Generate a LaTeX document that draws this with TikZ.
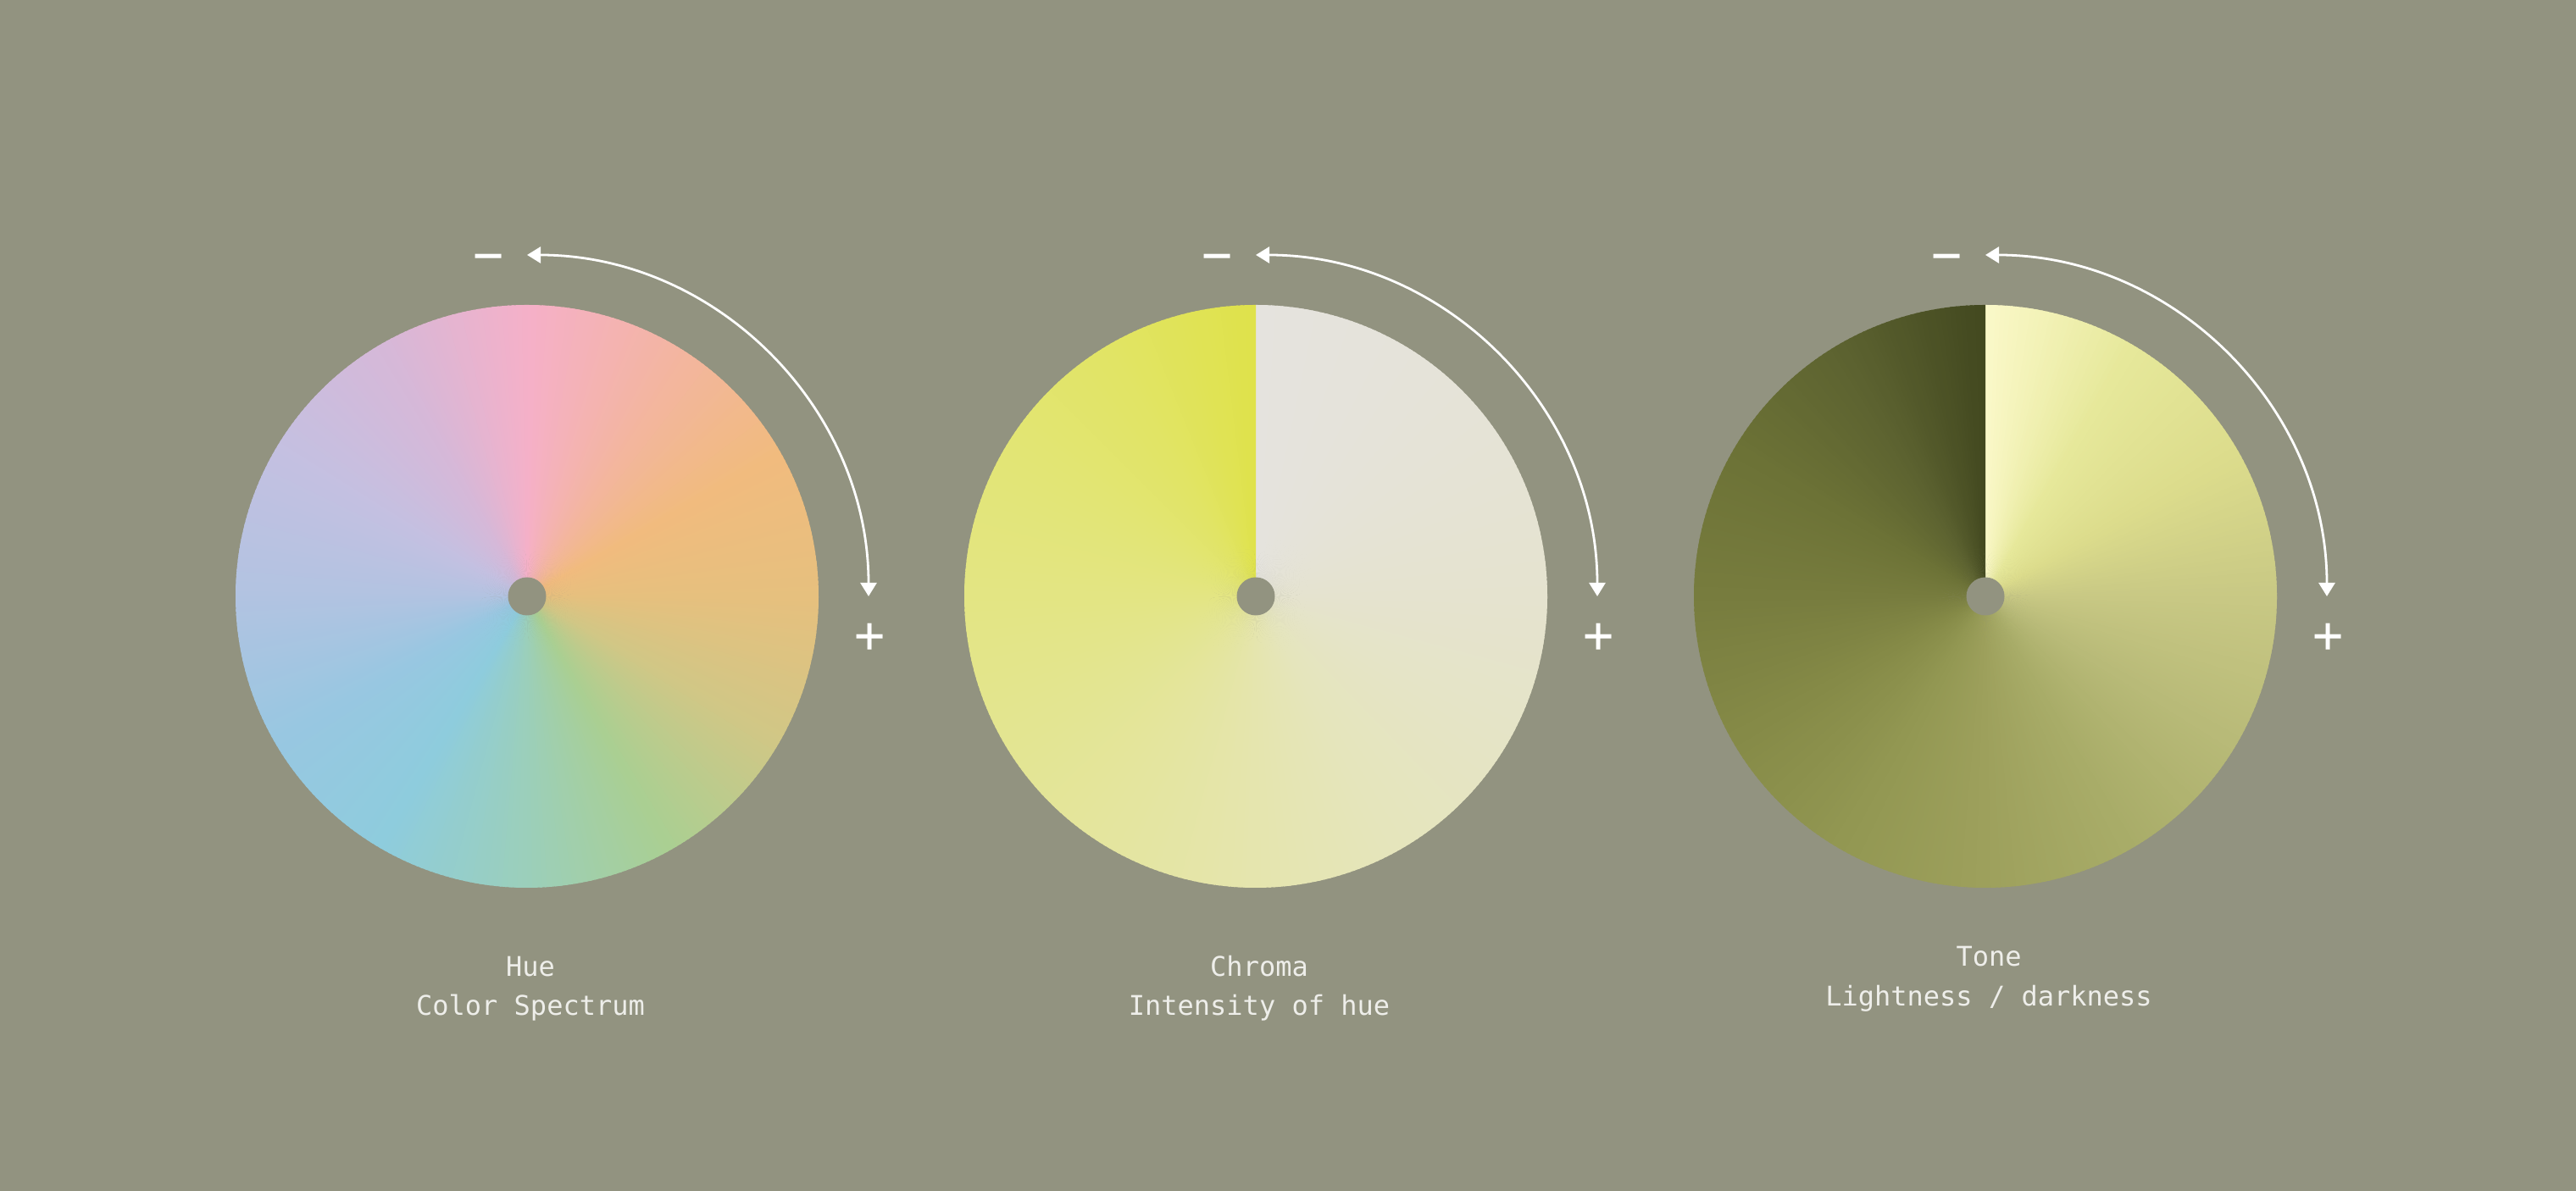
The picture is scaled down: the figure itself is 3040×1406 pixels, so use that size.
\documentclass[tikz,border=0pt]{standalone}
\usepackage{fontspec}
\setmonofont{DejaVu Sans Mono}
\usetikzlibrary{arrows.meta,calc}
\definecolor{bg}{HTML}{929380}
\definecolor{txt}{HTML}{EEEEEA}
% hue stops
\definecolor{h0}{HTML}{F5B0C8}\definecolor{h1}{HTML}{F3B5A2}\definecolor{h2}{HTML}{F1BB7E}
\definecolor{h3}{HTML}{E6C07E}\definecolor{h4}{HTML}{D0C786}\definecolor{h5}{HTML}{AACF92}
\definecolor{h6}{HTML}{9BCFBB}\definecolor{h7}{HTML}{8ECCDD}\definecolor{h8}{HTML}{98C7E1}
\definecolor{h9}{HTML}{B2C3E1}\definecolor{h10}{HTML}{C4C0E1}\definecolor{h11}{HTML}{D6B8D8}
% chroma stops
\definecolor{c0}{HTML}{E5E3DE}\definecolor{c1}{HTML}{E5E3DA}\definecolor{c2}{HTML}{E5E3D5}
\definecolor{c3}{HTML}{E5E3CF}\definecolor{c4}{HTML}{E5E4C6}\definecolor{c5}{HTML}{E5E5BC}
\definecolor{c6}{HTML}{E5E5AE}\definecolor{c7}{HTML}{E4E59F}\definecolor{c8}{HTML}{E3E591}
\definecolor{c9}{HTML}{E3E583}\definecolor{c10}{HTML}{E2E575}\definecolor{c11}{HTML}{E1E464}
\definecolor{c12}{HTML}{DFE24A}
% tone stops
\definecolor{t0}{HTML}{FAF8C8}\definecolor{t1}{HTML}{E6E89A}\definecolor{t2}{HTML}{DCDC8C}
\definecolor{t3}{HTML}{C8C884}\definecolor{t4}{HTML}{B8BA78}\definecolor{t5}{HTML}{A8AC68}
\definecolor{t6}{HTML}{9DA05C}\definecolor{t7}{HTML}{929752}\definecolor{t8}{HTML}{858A47}
\definecolor{t9}{HTML}{777C3E}\definecolor{t10}{HTML}{6C7236}\definecolor{t11}{HTML}{5C6230}
\definecolor{t12}{HTML}{42481F}
\newcommand\drawwheel[2]{%
  \begin{scope}[shift={(#1)}]
    \foreach \ca/\cb [count=\i from 0] in {#2} {
      \foreach \j in {0,...,29} {
        \pgfmathsetmacro\a{\i*30+\j}
        \pgfmathtruncatemacro\p{round(100-\j*100/30)}
        \pgfmathsetmacro\e{min(\a+1.5,360)}
        \fill[fill=\ca!\p!\cb] (0,0) -- (90-\a:344) arc[start angle=90-\a, end angle=90-\e, radius=344] -- cycle;
      }
    }
  \end{scope}}
\tikzset{
  dot/.style={circle, fill=bg, minimum size=22.5pt, inner sep=0pt},
  turn/.style={draw=white, line width=1.4pt, {Triangle[length=8pt,width=9.5pt]}-{Triangle[length=8pt,width=9.5pt]}},
  sign/.style={text=white, font=\ttfamily\fontsize{30pt}{30pt}\selectfont, inner sep=0pt},
  label/.style={text=txt, font=\ttfamily\fontsize{16pt}{20pt}\selectfont, inner sep=0pt, anchor=base},
}
\begin{document}
\begin{tikzpicture}[x=0.5pt,y=0.5pt]
\fill[bg] (0,0) rectangle (3040,1406);
\useasboundingbox (0,0) rectangle (3040,1406);
\coordinate (w1) at (622,702);
\coordinate (w2) at (1482,702);
\coordinate (w3) at (2343,702);

\drawwheel{w1}{h0/h1,h1/h2,h2/h3,h3/h4,h4/h5,h5/h6,h6/h7,h7/h8,h8/h9,h9/h10,h10/h11,h11/h0}
\drawwheel{w2}{c0/c1,c1/c2,c2/c3,c3/c4,c4/c5,c5/c6,c6/c7,c7/c8,c8/c9,c9/c10,c10/c11,c11/c12}
\drawwheel{w3}{t0/t1,t1/t2,t2/t3,t3/t4,t4/t5,t5/t6,t6/t7,t7/t8,t8/t9,t9/t10,t10/t11,t11/t12}

\foreach \w in {1,2,3} {
  \node[dot] (d\w) at (w\w) {};
  \coordinate (top\w) at ($(w\w)+(0,403)$);
  \coordinate (rt\w) at ($(w\w)+(403,0)$);
  \draw[turn] (top\w) arc[start angle=90, end angle=0, radius=403];
  \node[sign] (minus\w) at ($(w\w)+(-45,393)$) {−};
  \node[sign] (plus\w) at ($(w\w)+(405,-49)$) {+};
}
\node[label] (n1a) at ($(w1)+(4,-449)$) {Hue};
\node[label] (n1b) at ($(w1)+(4,-495)$) {Color Spectrum};
\node[label] (n2a) at ($(w2)+(4,-449)$) {Chroma};
\node[label] (n2b) at ($(w2)+(4,-495)$) {Intensity of hue};
\node[label] (n3a) at ($(w3)+(4,-437)$) {Tone};
\node[label] (n3b) at ($(w3)+(4,-484)$) {Lightness / darkness};
\end{tikzpicture}
\end{document}
